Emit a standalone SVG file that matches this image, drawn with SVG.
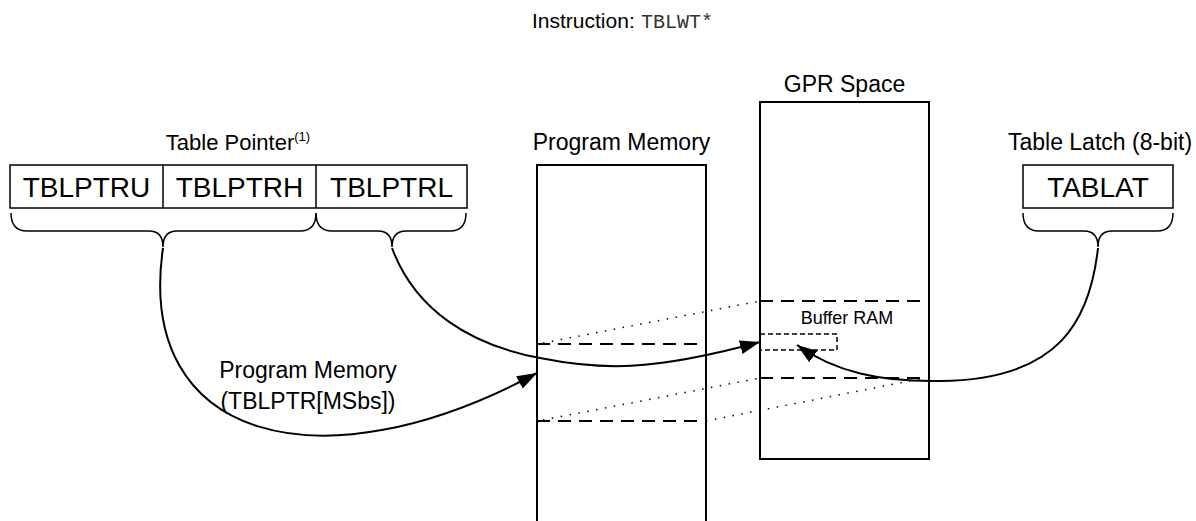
<svg xmlns="http://www.w3.org/2000/svg" width="1196" height="521" viewBox="0 0 1196 521">
<defs>
<style>
.t{font-family:"Liberation Sans",Arial,sans-serif;fill:#000}
.box{fill:#fff;stroke:#000;stroke-width:1.5}
.mem{fill:#fff;stroke:#000;stroke-width:2}
.dash{fill:none;stroke:#000;stroke-width:2;stroke-dasharray:13,8}
.sdash{fill:none;stroke:#000;stroke-width:1.5;stroke-dasharray:5,3}
.dot{fill:none;stroke:#000;stroke-width:1.5;stroke-dasharray:1.5,7.5}
.brace{fill:none;stroke:#000;stroke-width:1.5}
.conn{fill:none;stroke:#000;stroke-width:2}
</style>
<marker id="ah" viewBox="0 0 20 14" refX="20" refY="7" markerWidth="20" markerHeight="14" markerUnits="userSpaceOnUse" orient="auto">
<path d="M0,0 L20,7 L0,14 Z" fill="#000"/>
</marker>
</defs>
<rect width="1196" height="521" fill="#fff"/>

<g id="title">
<text class="t" x="532" y="28" font-size="21">Instruction:</text>
<text x="641" y="28" font-size="20" font-family="'Liberation Mono','Courier New',monospace" fill="#333">TBLWT*</text>
</g>

<g id="table-pointer">
<text class="t" x="238" y="150" font-size="22" text-anchor="middle">Table Pointer<tspan font-size="13" dy="-9">(1)</tspan></text>
<rect class="box" x="10" y="165" width="457" height="43"/>
<line x1="163" y1="165" x2="163" y2="208" stroke="#000" stroke-width="1.5"/>
<line x1="316" y1="165" x2="316" y2="208" stroke="#000" stroke-width="1.5"/>
<text class="t" x="86.5" y="197" font-size="28" text-anchor="middle">TBLPTRU</text>
<text class="t" x="239.5" y="197" font-size="28" text-anchor="middle">TBLPTRH</text>
<text class="t" x="391.5" y="197" font-size="28" text-anchor="middle">TBLPTRL</text>
<path class="brace" d="M11,213 Q11,231 27,231 L149,231 Q163,231 163,247 Q163,231 177,231 L300,231 Q316,231 316,213"/>
<path class="brace" d="M316,213 Q316,231 332,231 L378,231 Q392,231 392,247 Q392,231 406,231 L450,231 Q466,231 466,213"/>
</g>

<g id="program-memory">
<text class="t" x="621.5" y="150" font-size="23" text-anchor="middle">Program Memory</text>
<path class="mem" d="M537,530 L537,165 L706,165 L706,530"/>
<line class="dash" x1="537" y1="344" x2="706" y2="344"/>
<line class="dash" x1="537" y1="421" x2="706" y2="421"/>
</g>

<g id="gpr-space">
<text class="t" x="844.5" y="92" font-size="23" text-anchor="middle">GPR Space</text>
<rect class="mem" x="760" y="102" width="169" height="357"/>
<line class="dash" x1="760" y1="301" x2="929" y2="301"/>
<line class="dash" x1="760" y1="378" x2="929" y2="378"/>
<text class="t" x="847" y="324" font-size="18" text-anchor="middle">Buffer RAM</text>
<rect class="sdash" x="760" y="334" width="77" height="16"/>
</g>

<g id="table-latch">
<text class="t" x="1100" y="150" font-size="23" text-anchor="middle">Table Latch (8-bit)</text>
<rect class="box" x="1023" y="165" width="150" height="43"/>
<text class="t" x="1098" y="197" font-size="28" text-anchor="middle">TABLAT</text>
<path class="brace" d="M1023,213 Q1023,231 1039,231 L1084,231 Q1098,231 1098,247 Q1098,231 1112,231 L1157,231 Q1173,231 1173,213"/>
</g>

<g id="connectors">
<path class="dot" d="M543,343 L760,301"/>
<path class="dot" d="M543,420 L760,378"/>
<path class="dot" d="M706,421 L920,379"/>
<path class="conn" marker-end="url(#ah)" d="M163,248 C135,440 320,490 537,373"/>
<path class="conn" marker-end="url(#ah)" d="M392,248 C415,310 470,345 540,358 C600,370 650,372 760,342"/>
<path class="conn" marker-end="url(#ah)" d="M1098,248 C1090,320 1060,380 940,381 C880,382 835,372 797,345"/>
<text class="t" x="308" y="378" font-size="23" text-anchor="middle">Program Memory</text>
<text class="t" x="308" y="409" font-size="23" text-anchor="middle">(TBLPTR[MSbs])</text>
</g>
</svg>
